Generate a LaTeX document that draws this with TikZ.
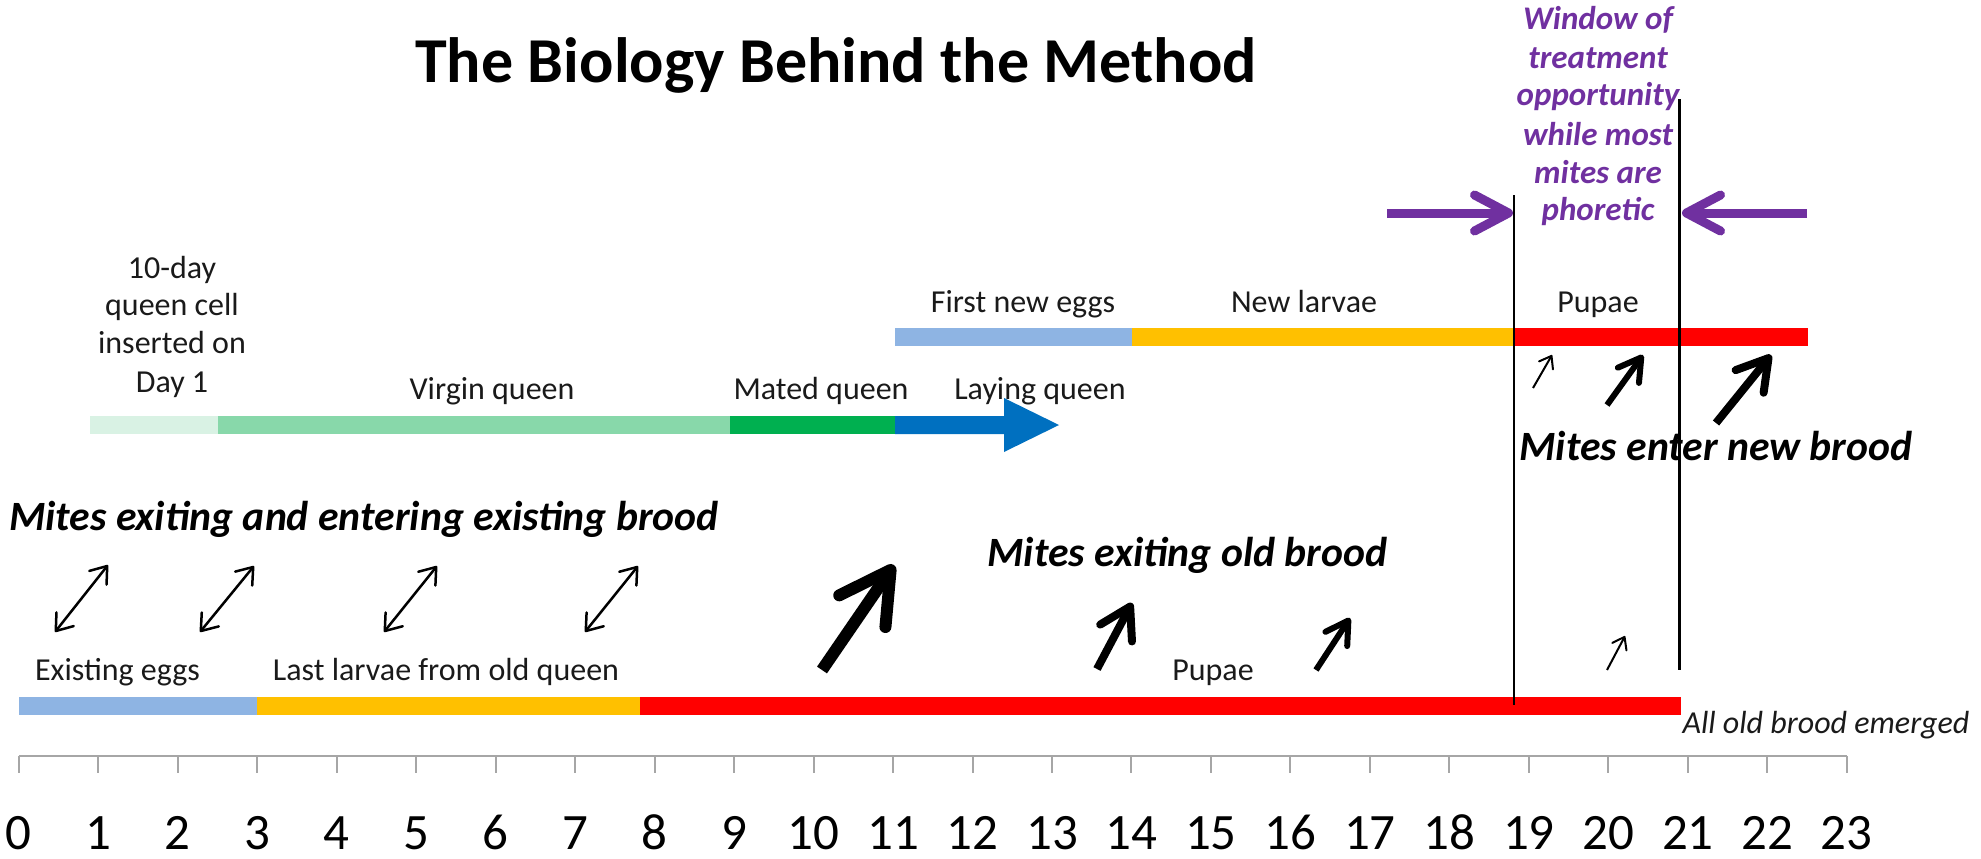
\documentclass[tikz,border=0pt]{standalone}
\usepackage{fontspec}
\setmainfont{Carlito}
\usetikzlibrary{arrows.meta}
\definecolor{eggblue}{HTML}{8EB4E3}
\definecolor{larvaorange}{HTML}{FFC000}
\definecolor{pupared}{HTML}{FF0000}
\definecolor{mint}{HTML}{D9F2E4}
\definecolor{midgreen}{HTML}{88D8AA}
\definecolor{matedgreen}{HTML}{00B050}
\definecolor{layblue}{HTML}{0070C0}
\definecolor{winpurple}{HTML}{7030A0}
\definecolor{axisgray}{HTML}{A6A6A6}
\definecolor{txt}{HTML}{1A1A1A}
\begin{document}
\begin{tikzpicture}[x=1pt,y=-1pt,
  lbl/.style={font=\fontsize{32}{38}\selectfont, anchor=base, inner sep=0pt, text=txt},
  numlbl/.style={font=\fontsize{51}{58}\selectfont, anchor=base, inner sep=0pt, text=black},
  mites/.style={font=\fontsize{41.7}{48}\selectfont\bfseries\itshape, anchor=base, inner sep=0pt, text=black},
  wintxt/.style={font=\fontsize{33}{38}\selectfont\bfseries\itshape, anchor=base, inner sep=0pt, text=winpurple},
  emtxt/.style={font=\fontsize{32}{38}\selectfont\itshape, anchor=base, inner sep=0pt, text=txt},
  thinarr/.style={line width=2pt, -{Straight Barb[length=11pt,width=16pt,round]}},
  dblarr/.style={line width=2.5pt, {Straight Barb[length=15pt,width=22pt,round]}-{Straight Barb[length=15pt,width=22pt,round]}},
  medarr/.style={line width=6pt, -{Straight Barb[length=22pt,width=26pt,round]}},
  midarr/.style={line width=8pt, -{Straight Barb[length=30pt,width=36pt,round]}},
  bigarr/.style={line width=12pt, -{Straight Barb[length=50pt,width=56pt,round]}},
  purparr/.style={draw=winpurple, line width=9pt, -{Straight Barb[length=34pt,width=36pt,round]}},
  winline/.style={line width=2.5pt, black}
]
\useasboundingbox (0,0) rectangle (1981,859);

% title
\node[font=\fontsize{64}{72}\selectfont\bfseries, anchor=base, inner sep=0pt] (title) at (836,82) {The Biology Behind the Method};

% axis
\draw[axisgray, line width=2pt] (18.75,756) -- (1846.8,756);
\foreach \d in {0,...,23} {
  \pgfmathsetmacro\xx{18.75+79.48*\d}
  \draw[axisgray, line width=2pt] (\xx,756) -- (\xx,773);
  \node[numlbl] (n\d) at (\xx,849) {\d};
}

% old brood bar
\fill[eggblue] (18.75,697) rectangle (257,715);
\fill[larvaorange] (257,697) rectangle (640,715);
\fill[pupared] (640,697) rectangle (1681,715);

% new brood bar
\fill[eggblue] (895,327.5) rectangle (1132,345.5);
\fill[larvaorange] (1132,327.5) rectangle (1514,345.5);
\fill[pupared] (1514,327.5) rectangle (1808,345.5);

% queen bar
\fill[mint] (90,416) rectangle (218,434);
\fill[midgreen] (218,416) rectangle (730,434);
\fill[matedgreen] (730,416) rectangle (895,434);
\fill[layblue] (895,416) -- (1004,416) -- (1004,398) -- (1059,425) -- (1004,452) -- (1004,434) -- (895,434) -- cycle;

% window lines
\coordinate (wlt) at (1514,195);
\coordinate (wlb) at (1514,705);
\coordinate (wrt) at (1679.5,99);
\coordinate (wrb) at (1679.5,670);
\draw[winline] (wlt) -- (wlb);
\draw[winline] (wrt) -- (wrb);

% purple arrows
\coordinate (pl0) at (1387,213);
\coordinate (pl1) at (1513,213);
\coordinate (pr0) at (1807,213);
\coordinate (pr1) at (1682,213);
\draw[purparr] (pl0) -- (pl1);
\draw[purparr] (pr0) -- (pr1);

% window text
\node[wintxt] (w1) at (1598,30) {Window of};
\node[wintxt] (w2) at (1598,68) {treatment};
\node[wintxt] (w3) at (1598,106) {opportunity};
\node[wintxt] (w4) at (1598,145) {while most};
\node[wintxt] (w5) at (1598,183) {mites are};
\node[wintxt] (w6) at (1598,220) {phoretic};

% queen cell text
\node[lbl] (t1) at (172,278) {10-day};
\node[lbl] (t2) at (172,315) {queen cell};
\node[lbl] (t3) at (172,353) {inserted on};
\node[lbl] (t4) at (172,392) {Day 1};

% bar labels
\node[lbl] (virgin) at (492,399) {Virgin queen};
\node[lbl] (mated) at (821,399) {Mated queen};
\node[lbl] (laying) at (1040,399) {Laying queen};
\node[lbl] (firsteggs) at (1023,312) {First new eggs};
\node[lbl] (newlarvae) at (1304,312) {New larvae};
\node[lbl] (pupaenew) at (1598,312) {Pupae};
\node[lbl] (exeggs) at (117.5,680) {Existing eggs};
\node[lbl] (lastlarvae) at (446,680) {Last larvae from old queen};
\node[lbl] (pupaeold) at (1213,680) {Pupae};
\node[emtxt] (emerged) at (1826,733) {All old brood emerged};

% mites texts
\node[mites] (mitesexist) at (364,530) {Mites exiting and entering existing brood};
\node[mites] (mitesold) at (1187.5,566) {Mites exiting old brood};
\node[mites] (mitesenter) at (1716,460) {Mites enter new brood};

% double arrows
\coordinate (d1a) at (55,632);  \coordinate (d1b) at (108,565);
\coordinate (d2a) at (200,632); \coordinate (d2b) at (254,566);
\coordinate (d3a) at (384,632); \coordinate (d3b) at (437,566);
\coordinate (d4a) at (585,632); \coordinate (d4b) at (638,566);
\draw[dblarr] (d1a) -- (d1b);
\draw[dblarr] (d2a) -- (d2b);
\draw[dblarr] (d3a) -- (d3b);
\draw[dblarr] (d4a) -- (d4b);

% old brood exit arrows
\coordinate (oa0) at (822,670);  \coordinate (oa1) at (894,565);
\coordinate (ob0) at (1097,669); \coordinate (ob1) at (1132,603);
\coordinate (oc0) at (1316,670); \coordinate (oc1) at (1350,618);
\coordinate (od0) at (1607,670); \coordinate (od1) at (1625,636);
\draw[bigarr] (oa0) -- (oa1);
\draw[midarr] (ob0) -- (ob1);
\draw[medarr] (oc0) -- (oc1);
\draw[thinarr] (od0) -- (od1);

% new brood entry arrows
\coordinate (ne0) at (1533,388); \coordinate (ne1) at (1552,355);
\coordinate (nf0) at (1607,405); \coordinate (nf1) at (1643,355);
\coordinate (ng0) at (1716,423); \coordinate (ng1) at (1771,355);
\draw[thinarr] (ne0) -- (ne1);
\draw[medarr] (nf0) -- (nf1);
\draw[midarr] (ng0) -- (ng1);
\end{tikzpicture}
\end{document}
